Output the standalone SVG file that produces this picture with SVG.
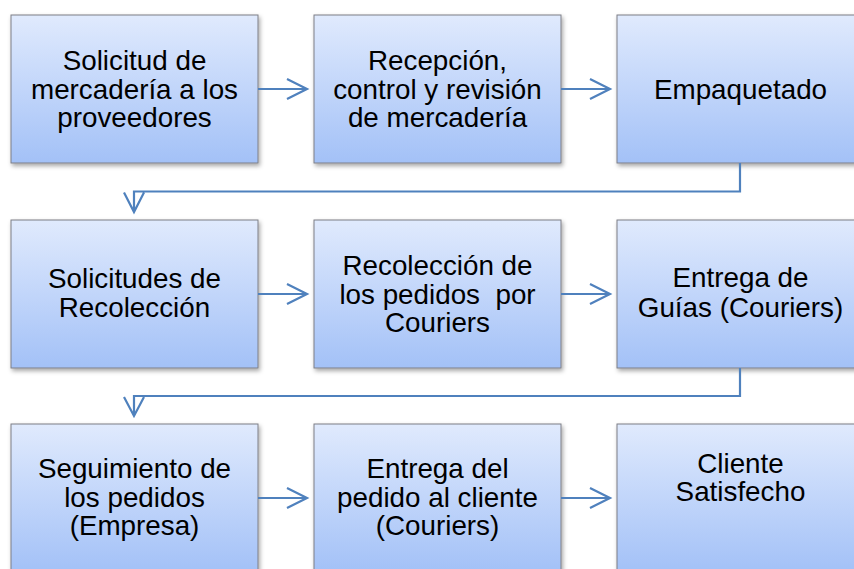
<svg xmlns="http://www.w3.org/2000/svg" width="854" height="569" viewBox="0 0 854 569">
  <defs>
    <linearGradient id="g" x1="0" y1="0" x2="0" y2="1">
      <stop offset="0" stop-color="#e0eafd"/>
      <stop offset="1" stop-color="#a3c1f7"/>
    </linearGradient>
    <filter id="sh" x="-10%" y="-10%" width="130%" height="130%">
      <feDropShadow dx="1.5" dy="2.5" stdDeviation="2" flood-color="#000" flood-opacity="0.35"/>
    </filter>
  </defs>
  <style>
    .box { fill: url(#g); stroke: #7c7f86; stroke-width: 1; filter: url(#sh); }
    .t { font-family: "Liberation Sans", Arial, sans-serif; font-size: 27.8px; fill: #000; text-anchor: middle; white-space: pre; }
    .c { fill: none; stroke: #4f81bd; stroke-width: 2.2; stroke-linejoin: miter; }
  </style>
  <rect width="854" height="569" fill="#fff"/>

  <g id="n1">
    <rect class="box" x="11" y="15" width="247" height="148"/>
    <text class="t" x="134.5" y="70">Solicitud de</text>
    <text class="t" x="134.5" y="99">mercadería a los</text>
    <text class="t" x="134.5" y="127">proveedores</text>
  </g>
  <g id="n2">
    <rect class="box" x="314" y="15" width="247" height="148"/>
    <text class="t" x="437.5" y="70">Recepción,</text>
    <text class="t" x="437.5" y="99">control y revisión</text>
    <text class="t" x="437.5" y="127">de mercadería</text>
  </g>
  <g id="n3">
    <rect class="box" x="617" y="15" width="247" height="148"/>
    <text class="t" x="740.5" y="99">Empaquetado</text>
  </g>

  <g id="n4">
    <rect class="box" x="11" y="220" width="247" height="148"/>
    <text class="t" x="134.5" y="288">Solicitudes de</text>
    <text class="t" x="134.5" y="317">Recolección</text>
  </g>
  <g id="n5">
    <rect class="box" x="314" y="220" width="247" height="148"/>
    <text class="t" x="437.5" y="275">Recolección de</text>
    <text class="t" x="437.5" y="304">los pedidos  por</text>
    <text class="t" x="437.5" y="332">Couriers</text>
  </g>
  <g id="n6">
    <rect class="box" x="617" y="220" width="247" height="148"/>
    <text class="t" x="740.5" y="287">Entrega de</text>
    <text class="t" x="740.5" y="317">Guías (Couriers)</text>
  </g>

  <g id="n7">
    <rect class="box" x="11" y="424" width="247" height="148"/>
    <text class="t" x="134.5" y="478">Seguimiento de</text>
    <text class="t" x="134.5" y="507">los pedidos</text>
    <text class="t" x="134.5" y="535">(Empresa)</text>
  </g>
  <g id="n8">
    <rect class="box" x="314" y="424" width="247" height="148"/>
    <text class="t" x="437.5" y="478">Entrega del</text>
    <text class="t" x="437.5" y="507">pedido al cliente</text>
    <text class="t" x="437.5" y="535">(Couriers)</text>
  </g>
  <g id="n9">
    <rect class="box" x="617" y="424" width="247" height="148"/>
    <text class="t" x="740.5" y="473">Cliente</text>
    <text class="t" x="740.5" y="501">Satisfecho</text>
  </g>

  <g id="connectors">
    <path class="c" d="M258,89 H306 M287,79 L307,89 L287,99"/>
    <path class="c" d="M561,89 H609 M590,79 L610,89 L590,99"/>
    <path class="c" d="M740,163 V191.5 H134 V211 M124,192.5 L134,212 L144,192.5"/>
    <path class="c" d="M258,294 H306 M287,284 L307,294 L287,304"/>
    <path class="c" d="M561,294 H609 M590,284 L610,294 L590,304"/>
    <path class="c" d="M740,368 V396 H134 V415 M124,397 L134,416 L144,397"/>
    <path class="c" d="M258,498 H306 M287,488 L307,498 L287,508"/>
    <path class="c" d="M561,498 H609 M590,488 L610,498 L590,508"/>
  </g>
</svg>
